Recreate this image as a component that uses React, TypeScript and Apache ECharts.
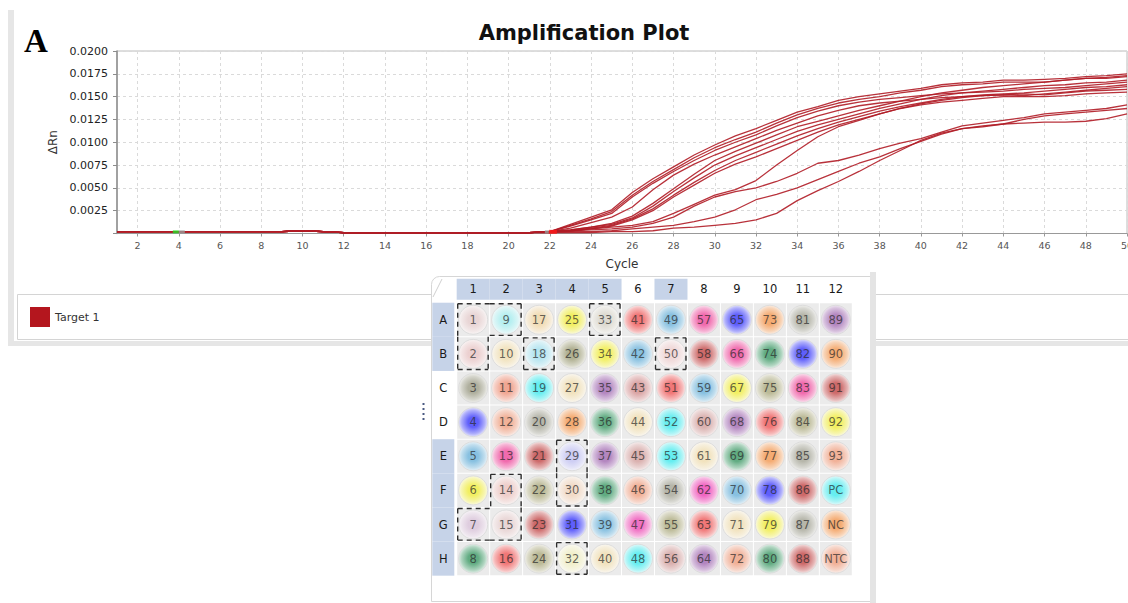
import React, { useEffect, useRef } from "react";
import * as echarts from "echarts";

// ---------- Amplification plot data ----------
const cycles = [
  "1","2","3","4","5","6","7","8","9","10","11","12","13","14","15","16","17","18","19","20",
  "21","22","23","24","25","26","27","28","29","30","31","32","33","34","35","36","37","38","39","40",
  "41","42","43","44","45","46","47","48","49","50",
];
// cycles 1-21 (flat baseline)
const baseline = [0.0002,0.0002,0.0002,0.0002,0.0002,0.0002,0.0002,0.0002,0.0002,0.0003,0.0002,0.0001,0.0001,0.0001,0.0001,0.0001,0.0001,0.0001,0.0001,0.0001,0.0001];
// cycles 22-50
const riseT1 = [0.0002,0.0010,0.0018,0.0026,0.0045,0.0060,0.0073,0.0086,0.0097,0.0107,0.0115,0.0124,0.0133,0.0139,0.0146,0.0150,0.0153,0.0156,0.0159,0.0163,0.0165,0.0166,0.0168,0.0168,0.0169,0.0170,0.0172,0.0173,0.0175];
const riseT2 = [0.0002,0.0009,0.0016,0.0024,0.0042,0.0057,0.0070,0.0083,0.0094,0.0103,0.0111,0.0121,0.0130,0.0137,0.0143,0.0147,0.0150,0.0154,0.0157,0.0161,0.0163,0.0164,0.0166,0.0166,0.0166,0.0168,0.0170,0.0170,0.0172];
const riseT3 = [0.0002,0.0008,0.0015,0.0022,0.0040,0.0055,0.0068,0.0080,0.0091,0.0100,0.0108,0.0118,0.0127,0.0134,0.0140,0.0144,0.0147,0.0149,0.0151,0.0153,0.0154,0.0155,0.0156,0.0158,0.0159,0.0160,0.0162,0.0164,0.0166];
const riseT4 = [0.0002,0.0006,0.0012,0.0018,0.0029,0.0048,0.0064,0.0076,0.0086,0.0095,0.0104,0.0113,0.0121,0.0129,0.0135,0.0140,0.0143,0.0145,0.0147,0.0149,0.0150,0.0151,0.0152,0.0151,0.0153,0.0155,0.0157,0.0159,0.0161];
const riseM1 = [0.0002,0.0004,0.0007,0.0011,0.0019,0.0033,0.0049,0.0065,0.0080,0.0090,0.0099,0.0108,0.0117,0.0123,0.0129,0.0135,0.0140,0.0145,0.0150,0.0154,0.0157,0.0160,0.0162,0.0164,0.0166,0.0168,0.0170,0.0171,0.0173];
const riseM2 = [0.0002,0.0004,0.0007,0.0010,0.0017,0.0030,0.0046,0.0061,0.0075,0.0085,0.0094,0.0103,0.0112,0.0119,0.0125,0.0131,0.0137,0.0142,0.0147,0.0151,0.0154,0.0156,0.0158,0.0160,0.0162,0.0163,0.0165,0.0166,0.0168];
const riseM3 = [0.0002,0.0003,0.0006,0.0009,0.0016,0.0027,0.0042,0.0056,0.0069,0.0080,0.0089,0.0098,0.0107,0.0115,0.0122,0.0128,0.0134,0.0139,0.0143,0.0147,0.0150,0.0152,0.0153,0.0154,0.0156,0.0158,0.0160,0.0161,0.0163];
const riseM4 = [0.0002,0.0003,0.0005,0.0008,0.0015,0.0025,0.0040,0.0053,0.0066,0.0076,0.0084,0.0093,0.0102,0.0111,0.0119,0.0125,0.0131,0.0137,0.0141,0.0144,0.0146,0.0148,0.0150,0.0150,0.0150,0.0151,0.0153,0.0154,0.0155];
const riseS  = [0.0002,0.0003,0.0005,0.0007,0.0009,0.0013,0.0022,0.0032,0.0042,0.0048,0.0058,0.0075,0.0091,0.0106,0.0117,0.0124,0.0131,0.0137,0.0142,0.0146,0.0149,0.0151,0.0152,0.0153,0.0152,0.0154,0.0156,0.0157,0.0158];
const riseA  = [0.0002,0.0003,0.0004,0.0005,0.0007,0.0011,0.0018,0.0030,0.0040,0.0046,0.0050,0.0057,0.0066,0.0077,0.0080,0.0086,0.0093,0.0099,0.0104,0.0111,0.0118,0.0121,0.0124,0.0127,0.0131,0.0133,0.0135,0.0137,0.0141];
const riseL1 = [0.0001,0.0002,0.0002,0.0003,0.0005,0.0007,0.0009,0.0013,0.0018,0.0026,0.0037,0.0043,0.0050,0.0059,0.0068,0.0077,0.0084,0.0093,0.0101,0.0109,0.0115,0.0117,0.0120,0.0125,0.0129,0.0131,0.0133,0.0135,0.0137];
const riseL2 = [0.0001,0.0001,0.0001,0.0002,0.0002,0.0003,0.0006,0.0007,0.0009,0.0011,0.0015,0.0022,0.0036,0.0047,0.0057,0.0068,0.0080,0.0091,0.0102,0.0110,0.0115,0.0118,0.0120,0.0121,0.0122,0.0122,0.0123,0.0126,0.0131];
const rises = [riseT1, riseT2, riseT3, riseT4, riseM1, riseM2, riseM3, riseM4, riseS, riseA, riseL1, riseL2];
const baselineLevel = 0.00018;

// ---------- Plate data ----------
const plateCols = ["1","2","3","4","5","6","7","8","9","10","11","12"];
const plateRows = ["A","B","C","D","E","F","G","H"];
const highlightedCols = ["1","2","3","4","5","7"];
const highlightedRows = ["A","B","E","F","G","H"];
// column-major order (A1, B1, ... H1, A2, ...)
const wellLabels = [
  "1","2","3","4","5","6","7","8",
  "9","10","11","12","13","14","15","16",
  "17","18","19","20","21","22","23","24",
  "25","26","27","28","29","30","31","32",
  "33","34","35","36","37","38","39","40",
  "41","42","43","44","45","46","47","48",
  "49","50","51","52","53","54","55","56",
  "57","58","59","60","61","62","63","64",
  "65","66","67","68","69","70","71","72",
  "73","74","75","76","77","78","79","80",
  "81","82","83","84","85","86","87","88",
  "89","90","91","92","93","PC","NC","NTC",
];
const selectedWells = ["1","2","7","9","14","15","18","29","30","32","33","50"];

const BLUE = "#3c3cff", LBLUE = "#6fb6de", CYAN = "#44eef2", YEL = "#f4f040", GRN = "#3f9c68",
  PINK = "#f24a9e", RED = "#f25a5a", DRED = "#c64a4a", ORG = "#f79c55", SAL = "#f3a384",
  BEIGE = "#f3e0b2", GRAY = "#a9a99a", OLV = "#b0ae82", PUR = "#a56db5", PGR = "#d6a2a0";
const wellColors = [
  "#e8d0d0","#ecc9c9","#a0a08a",BLUE,LBLUE,YEL,"#dcc6dc",GRN,
  "#aaf0f2",BEIGE,"#f2957c",SAL,PINK,"#efc6c2","#e8d0d0",RED,
  "#f3d9a8","#a9e4f2",CYAN,GRAY,DRED,OLV,DRED,OLV,
  YEL,"#a2a27c",BEIGE,ORG,"#c6c6f6","#f3d6be",BLUE,"#f2f0c2",
  "#dad6ca",YEL,PUR,GRN,PUR,GRN,LBLUE,BEIGE,
  RED,LBLUE,"#d69292",BEIGE,PGR,SAL,"#f252ba",CYAN,
  LBLUE,"#f1d2d2",RED,CYAN,CYAN,GRAY,OLV,PGR,
  PINK,DRED,LBLUE,PGR,BEIGE,"#f244b8",RED,PUR,
  BLUE,PINK,YEL,PUR,GRN,LBLUE,BEIGE,SAL,
  ORG,GRN,OLV,RED,ORG,BLUE,YEL,GRN,
  GRAY,BLUE,PINK,OLV,GRAY,DRED,GRAY,DRED,
  PUR,ORG,DRED,YEL,SAL,CYAN,ORG,SAL,
];

function tint(hex: string, t: number) {
  const n = parseInt(hex.slice(1), 16);
  const r = (n >> 16) & 255, g = (n >> 8) & 255, b = n & 255;
  const m = (c: number) => Math.round(c + (255 - c) * t);
  return `rgb(${m(r)},${m(g)},${m(b)})`;
}

const FONT = "DejaVu Sans";
const LINE_COLOR = "#b01c26";

export default function App() {
  const ref = useRef<HTMLDivElement>(null);

  useEffect(() => {
    if (!ref.current) return;
    const chart = echarts.init(ref.current, null, { renderer: "svg" });

    const evenCycle = (idx: number) => (idx + 1) % 2 === 0;

    const lineSeries = rises.map((r) => ({
      type: "line",
      name: "Target 1",
      xAxisIndex: 0,
      yAxisIndex: 0,
      data: baseline.concat(r),
      showSymbol: false,
      symbol: "none",
      silent: true,
      z: 3,
      itemStyle: { color: LINE_COLOR },
      lineStyle: { color: LINE_COLOR, width: 1.3, opacity: 0.9 },
    }));

    const marker = (name: string, idx: number, color: string, size: number[], offset: number[]) => ({
      type: "scatter",
      name,
      xAxisIndex: 0,
      yAxisIndex: 0,
      data: [[idx, baselineLevel]],
      symbol: "rect",
      symbolSize: size,
      symbolOffset: offset,
      silent: true,
      z: 5,
      itemStyle: { color },
    });

    const selIdx = new Set(selectedWells.map((w) => wellLabels.indexOf(w)));
    const isSel = (c: number, r: number) =>
      c >= 0 && c < 12 && r >= 0 && r < 8 && selIdx.has(c * 8 + r);

    const cellData: number[][] = [];
    const wellData: any[] = [];
    const outlineData: number[][] = [];
    wellLabels.forEach((lab, i) => {
      const c = Math.floor(i / 8);
      const r = i % 8;
      cellData.push([c, r]);
      const col = wellColors[i];
      wellData.push({
        name: lab,
        value: [c, r],
        itemStyle: {
          color: {
            type: "radial", x: 0.5, y: 0.5, r: 0.5,
            colorStops: [
              { offset: 0, color: col },
              { offset: 0.35, color: col },
              { offset: 0.8, color: tint(col, 0.5) },
              { offset: 1, color: tint(col, 0.82) },
            ],
          },
          borderColor: "#d8d8d8",
          borderWidth: 1,
        },
      });
      if (selIdx.has(i)) {
        outlineData.push([
          c, r,
          isSel(c, r - 1) ? 0 : 1,
          isSel(c + 1, r) ? 0 : 1,
          isSel(c, r + 1) ? 0 : 1,
          isSel(c - 1, r) ? 0 : 1,
        ]);
      }
    });

    const option: any = {
      animation: false,
      textStyle: { fontFamily: FONT },
      legend: {
        data: ["Target 1"],
        left: 30,
        top: 307,
        padding: 0,
        icon: "rect",
        itemWidth: 20,
        itemHeight: 20,
        itemStyle: { color: "#b4161e", borderWidth: 0 },
        textStyle: { fontFamily: FONT, fontSize: 11, color: "#333" },
        selectedMode: false,
        z: 10,
      },
      grid: [
        { left: 117, top: 51, width: 1010, height: 182.5, show: true, borderColor: "#bcbcbc", borderWidth: 1, outerBoundsMode: "none", containLabel: false },
        { left: 456.7, top: 302.7, width: 395.6, height: 273, outerBoundsMode: "none", containLabel: false },
      ],
      xAxis: [
        {
          type: "category",
          gridIndex: 0,
          data: cycles,
          boundaryGap: false,
          name: "Cycle",
          nameLocation: "middle",
          nameGap: 24,
          nameTextStyle: { fontFamily: FONT, fontSize: 12, color: "#333" },
          axisLine: { lineStyle: { color: "#999", width: 1 } },
          axisTick: { show: true, interval: evenCycle, length: 3, lineStyle: { color: "#999" } },
          axisLabel: { interval: evenCycle, fontSize: 9.5, color: "#555", margin: 7, fontFamily: FONT },
          splitLine: { show: true, interval: evenCycle, lineStyle: { color: "#dadada", type: [3, 3] } },
        },
        {
          type: "category",
          gridIndex: 1,
          data: plateCols,
          position: "top",
          z: 5,
          axisLine: { show: false },
          axisTick: { show: false },
          splitLine: { show: false },
          axisLabel: {
            interval: 0,
            margin: 3,
            formatter: (v: string) => (highlightedCols.includes(v) ? `{h|${v}}` : `{n|${v}}`),
            rich: {
              h: { backgroundColor: "#c6d3e8", width: 33, height: 21, lineHeight: 21, align: "center", fontSize: 11.5, fontFamily: FONT, color: "#1a1a1a" },
              n: { width: 33, height: 21, lineHeight: 21, align: "center", fontSize: 11.5, fontFamily: FONT, color: "#1a1a1a" },
            },
          },
        },
      ],
      yAxis: [
        {
          type: "value",
          gridIndex: 0,
          min: 0,
          max: 0.02,
          interval: 0.0025,
          name: "ΔRn",
          nameLocation: "middle",
          nameRotate: 90,
          nameGap: 52,
          nameTextStyle: { fontFamily: FONT, fontSize: 12, color: "#333" },
          axisLine: { show: true, lineStyle: { color: "#8c8c8c", width: 1.5 } },
          axisTick: { show: true, length: 4, lineStyle: { color: "#8c8c8c" } },
          axisLabel: {
            fontSize: 11,
            color: "#222",
            margin: 9,
            fontFamily: FONT,
            formatter: (v: number) => (v === 0 ? "" : v.toFixed(4)),
          },
          splitLine: { show: true, lineStyle: { color: "#dadada", type: [3, 3] } },
        },
        {
          type: "category",
          gridIndex: 1,
          data: plateRows,
          inverse: true,
          z: 5,
          axisLine: { show: false },
          axisTick: { show: false },
          splitLine: { show: false },
          axisLabel: {
            interval: 0,
            margin: 2.4,
            formatter: (v: string) => (highlightedRows.includes(v) ? `{h|${v}}` : `{n|${v}}`),
            rich: {
              h: { backgroundColor: "#c6d3e8", width: 22, height: 34.1, lineHeight: 34.1, align: "center", fontSize: 11.5, fontFamily: FONT, color: "#1a1a1a" },
              n: { width: 22, height: 34.1, lineHeight: 34.1, align: "center", fontSize: 11.5, fontFamily: FONT, color: "#1a1a1a" },
            },
          },
        },
      ],
      series: [
        ...lineSeries,
        marker("m1", 3, "#22e022", [6, 3], [-3, 0]),
        marker("m2", 3, "#9a9a9a", [6, 3], [3, 0]),
        marker("m3", 21, "#9a9a9a", [4, 3], [-3, 0]),
        marker("m4", 21, "#ff1818", [8, 4], [3, 0]),
        {
          type: "custom",
          name: "cells",
          xAxisIndex: 1,
          yAxisIndex: 1,
          data: cellData,
          silent: true,
          z: 1,
          renderItem: (_p: any, api: any) => {
            const p = api.coord([api.value(0), api.value(1)]);
            const s = api.size([1, 1]);
            return {
              type: "rect",
              shape: { x: p[0] - s[0] / 2 + 0.5, y: p[1] - s[1] / 2 + 0.5, width: s[0] - 1, height: s[1] - 1 },
              style: { fill: "#ebebeb" },
            };
          },
        },
        {
          type: "scatter",
          name: "wells",
          xAxisIndex: 1,
          yAxisIndex: 1,
          data: wellData,
          symbol: "circle",
          symbolSize: 29,
          silent: true,
          z: 3,
          label: {
            show: true,
            position: "inside",
            formatter: (p: any) => p.name,
            fontFamily: FONT,
            fontSize: 11.5,
            color: "rgba(40,40,40,0.88)",
          },
        },
        {
          type: "custom",
          name: "selection",
          xAxisIndex: 1,
          yAxisIndex: 1,
          data: outlineData,
          silent: true,
          z: 4,
          renderItem: (_p: any, api: any) => {
            const p = api.coord([api.value(0), api.value(1)]);
            const s = api.size([1, 1]);
            const top = api.value(2), right = api.value(3), bottom = api.value(4), left = api.value(5);
            const cx0 = p[0] - s[0] / 2, cx1 = p[0] + s[0] / 2;
            const cy0 = p[1] - s[1] / 2, cy1 = p[1] + s[1] / 2;
            const x0 = left ? cx0 + 1 : cx0;
            const x1 = right ? cx1 - 1.5 : cx1;
            const y0 = top ? cy0 + 1 : cy0;
            const y1 = bottom ? cy1 - 1.5 : cy1;
            const style = { stroke: "#2e2e2e", lineWidth: 1.4, lineDash: [5, 4], fill: null };
            const children: any[] = [];
            if (top) children.push({ type: "line", shape: { x1: x0, y1: y0, x2: x1, y2: y0 }, style });
            if (right) children.push({ type: "line", shape: { x1: x1, y1: y0, x2: x1, y2: y1 }, style });
            if (bottom) children.push({ type: "line", shape: { x1: x0, y1: y1, x2: x1, y2: y1 }, style });
            if (left) children.push({ type: "line", shape: { x1: x0, y1: y0, x2: x0, y2: y1 }, style });
            return { type: "group", children };
          },
        },
      ],
      graphic: [
        { type: "rect", shape: { x: 8, y: 10, width: 6, height: 336 }, style: { fill: "#e6e6e6" }, silent: true },
        { type: "rect", shape: { x: 8, y: 341, width: 1120, height: 5 }, style: { fill: "#e6e6e6" }, silent: true },
        { type: "rect", shape: { x: 17.5, y: 294.5, width: 1115, height: 45 }, style: { fill: "#fff", stroke: "#d4d4d4", lineWidth: 1 }, silent: true },
        { type: "rect", shape: { x: 431.5, y: 276.5, width: 439, height: 325, r: [8, 0, 0, 0] }, style: { fill: "#fff", stroke: "#d6d6d6", lineWidth: 1 }, silent: true },
        { type: "rect", shape: { x: 870, y: 272, width: 6, height: 331 }, style: { fill: "#e4e4e4" }, silent: true },
        { type: "line", shape: { x1: 433, y1: 297, x2: 442, y2: 279 }, style: { stroke: "#d0d0d0", lineWidth: 1 }, silent: true },
        { type: "rect", shape: { x: 422.5, y: 403, width: 2, height: 2 }, style: { fill: "#4a5a82" }, silent: true },
        { type: "rect", shape: { x: 422.5, y: 408, width: 2, height: 2 }, style: { fill: "#4a5a82" }, silent: true },
        { type: "rect", shape: { x: 422.5, y: 413, width: 2, height: 2 }, style: { fill: "#4a5a82" }, silent: true },
        { type: "rect", shape: { x: 422.5, y: 418, width: 2, height: 2 }, style: { fill: "#4a5a82" }, silent: true },
        {
          type: "text",
          x: 24,
          y: 41,
          silent: true,
          style: {
            text: "A",
            fontFamily: "Liberation Serif",
            fontWeight: "bold",
            fontSize: 33,
            fill: "#000",
            textAlign: "left",
            textVerticalAlign: "middle",
            align: "left",
            verticalAlign: "middle",
          },
        },
        {
          type: "text",
          x: 584,
          y: 33,
          silent: true,
          style: {
            text: "Amplification Plot",
            fontFamily: FONT,
            fontWeight: "bold",
            fontSize: 21,
            fill: "#111",
            textAlign: "center",
            textVerticalAlign: "middle",
            align: "center",
            verticalAlign: "middle",
          },
        },
      ],
    };

    chart.setOption(option);
    return () => chart.dispose();
  }, []);

  return (
    <div
      ref={ref}
      style={{ position: "fixed", left: 0, top: 0, width: 1128, height: 603, background: "#fff" }}
    />
  );
}
